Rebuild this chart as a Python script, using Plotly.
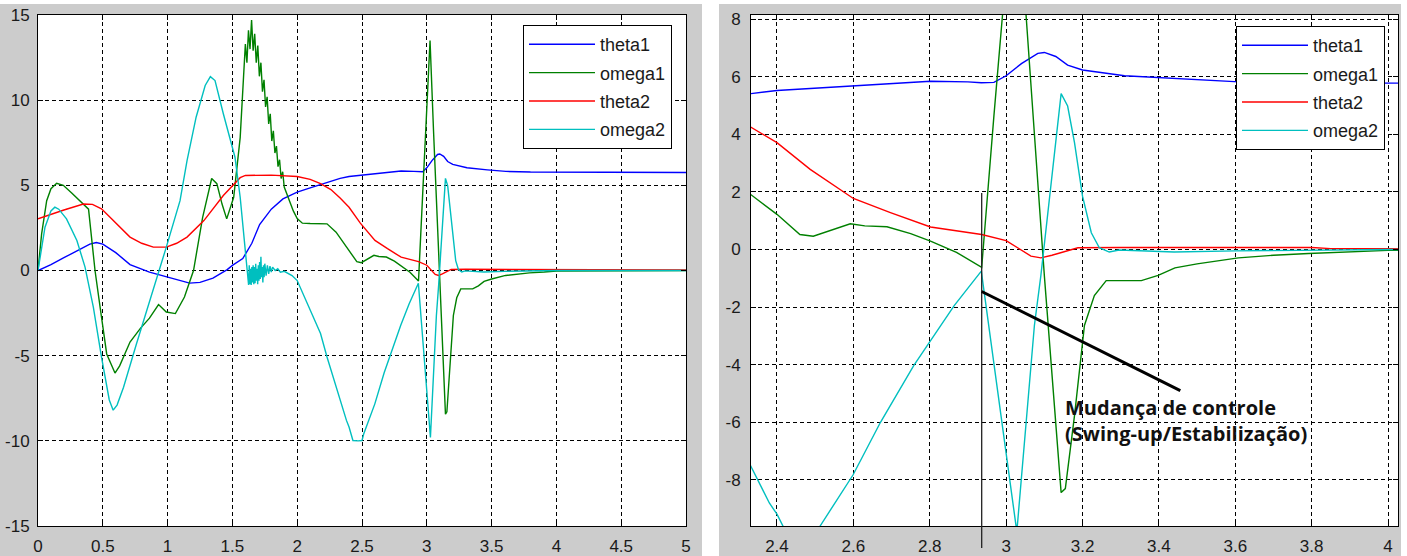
import plotly.graph_objects as go

# ---------------- data ----------------
t_theta1 = [0, 0.1, 0.2, 0.3, 0.4, 0.45, 0.5, 0.6, 0.71, 0.86, 1.0, 1.1, 1.17, 1.25,
            1.35, 1.46, 1.5, 1.58, 1.65, 1.71, 1.8, 1.89, 2.0, 2.1, 2.18, 2.26, 2.331,
            2.4, 2.5, 2.6, 2.7, 2.802, 2.9, 2.935, 2.968, 3.0, 3.04, 3.083, 3.1, 3.13,
            3.161, 3.2, 3.31, 3.467, 3.61, 3.8, 4.03, 4.5, 5.0]
theta1 = [0, 0.35, 0.75, 1.15, 1.55, 1.64, 1.55, 1.05, 0.35, -0.1, -0.4, -0.6, -0.74, -0.7,
          -0.45, 0.05, 0.3, 0.7, 1.6, 2.7, 3.6, 4.2, 4.6, 4.85, 5.05, 5.25, 5.41,
          5.52, 5.6, 5.66, 5.75, 5.84, 5.82, 5.79, 5.8, 6.03, 6.45, 6.81, 6.84, 6.7,
          6.4, 6.23, 6.03, 5.91, 5.82, 5.78, 5.77, 5.76, 5.75]

t_omega1 = [0, 0.028, 0.067, 0.1, 0.144, 0.195, 0.26, 0.32, 0.36, 0.39, 0.415, 0.44, 0.49,
            0.53, 0.594, 0.63, 0.71, 0.79, 0.86, 0.93, 0.99, 1.06, 1.13, 1.2, 1.27, 1.34,
            1.38, 1.42, 1.456, 1.51, 1.56, 1.6,
            1.612, 1.624, 1.636, 1.648, 1.660, 1.672, 1.684, 1.696, 1.708, 1.720,
            1.732, 1.744, 1.756, 1.768, 1.780, 1.792, 1.804, 1.816, 1.828, 1.840,
            1.852, 1.864, 1.876, 1.888, 1.900, 1.920, 1.94, 1.97, 2.0,
            2.04, 2.1, 2.23, 2.3, 2.331, 2.4, 2.46, 2.495, 2.55, 2.592, 2.63, 2.688, 2.75,
            2.802, 2.87, 2.936, 2.968, 2.99, 3.025, 3.052, 3.074, 3.091, 3.1, 3.144,
            3.155, 3.179, 3.205, 3.231, 3.262, 3.354, 3.398, 3.442, 3.5, 3.608, 3.7,
            3.792, 3.906, 4.0, 5.0]
omega1 = [0, 2.15, 4.1, 4.8, 5.12, 5.0, 4.55, 4.1, 3.85, 3.6, 1.8, 0, -2.74,
          -4.9, -6.02, -5.6, -4.2, -3.4, -2.8, -2.0, -2.44, -2.53, -1.56, 0, 3.1, 5.4,
          5.1, 3.9, 3.03, 4.3, 7.8, 13.3,
          12.2, 14.1, 13.0, 14.7, 12.9, 13.9, 12.2, 13.2, 11.4, 12.2,
          10.5, 11.2, 9.6, 10.2, 8.6, 9.2, 7.6, 8.2, 6.9, 7.3,
          6.1, 6.5, 5.4, 5.8, 4.9, 4.5, 4.1, 3.5, 3.05,
          2.78, 2.76, 2.74, 2.25, 1.91, 1.22, 0.52, 0.46, 0.7, 0.89, 0.82, 0.79, 0.55,
          0.29, -0.1, -0.62, 4.64, 8.2, 13.5, 8.17, 4.06, 0.59, -0.9, -8.44,
          -8.3, -5.77, -2.64, -1.6, -1.08, -1.08, -0.9, -0.64, -0.5, -0.29, -0.2,
          -0.14, -0.09, -0.03, 0]

t_theta2 = [0, 0.1, 0.2, 0.35, 0.42, 0.49, 0.6, 0.71, 0.8, 0.89, 0.99, 1.07, 1.15, 1.28,
            1.43, 1.5, 1.56, 1.6, 1.8, 2.0, 2.1, 2.18, 2.26, 2.331, 2.4, 2.487, 2.6,
            2.697, 2.802, 2.936, 3.0, 3.065, 3.091, 3.12, 3.188, 3.3, 3.8, 3.85, 5.0]
theta2 = [3.04, 3.3, 3.55, 3.9, 3.88, 3.62, 2.8, 1.96, 1.6, 1.37, 1.37, 1.6, 1.96, 2.93,
          4.4, 5.0, 5.45, 5.58, 5.6, 5.52, 5.35, 5.1, 4.75, 4.25, 3.71, 2.78, 1.77,
          1.28, 0.78, 0.52, 0.31, -0.23, -0.29, -0.2, 0.06, 0.07, 0.07, 0.03, 0.03]

t_omega2 = [0, 0.054, 0.1, 0.13, 0.16, 0.22, 0.3, 0.363, 0.427, 0.49, 0.55, 0.58, 0.61,
            0.66, 0.76, 0.864, 0.99, 1.096, 1.15, 1.22, 1.29, 1.33, 1.366, 1.43, 1.48,
            1.52, 1.56, 1.6, 1.62, 1.625, 1.63, 1.635, 1.64, 1.645, 1.65, 1.655, 1.66,
            1.665, 1.67, 1.675, 1.68, 1.685, 1.69, 1.695, 1.70, 1.705, 1.71, 1.715,
            1.72, 1.725, 1.73, 1.735, 1.74, 1.745, 1.75, 1.76, 1.77, 1.78, 1.79, 1.80,
            1.81, 1.83, 1.85, 1.87, 1.90, 1.93, 1.96, 2.0, 2.1, 2.18, 2.23, 2.3, 2.331,
            2.38, 2.4, 2.43, 2.47, 2.5, 2.513, 2.599, 2.671, 2.758, 2.799, 2.864, 2.935,
            3.028, 3.074, 3.091, 3.144, 3.161, 3.179, 3.2, 3.223, 3.244, 3.27, 3.296,
            3.44, 3.6, 4.0, 5.0]
omega2 = [0, 2.54, 3.5, 3.72, 3.6, 3.03, 1.76, 0.2, -2.15, -5.08, -7.6, -8.2, -7.9,
          -6.85, -4.3, -1.76, 1.37, 4.1, 6.45, 9.0, 10.86, 11.38, 11.15, 9.2, 7.82,
          6.65, 4.3, 1.17, -0.2, -0.85, 0.3, -0.8, 0.1, -0.85, 0.2, -0.7, 0.3,
          -0.8, 0.2, -0.75, 0.4, -0.6, 0.1, -0.8, 0.3, -0.6, 0.5, -0.5,
          0.8, -0.4, 0.2, -0.7, 0.3, -0.4, 0.4, -0.3, 0.3, -0.2, 0.25, -0.1,
          0.2, 0.0, 0.1, -0.1, -0.05, -0.2, -0.3, -0.59, -2.35, -3.7, -5.08, -6.85, -7.51,
          -8.8, -9.19, -9.98, -10.0, -9.98, -9.6, -7.83, -6.0, -4.03, -3.22, -1.95, -0.75,
          -9.8, -2.64, -0.9, 5.41, 4.98, 3.71, 1.85, 0.58, 0.06, -0.09, -0.02,
          -0.09, -0.05, 0.0, 0.0]

series_names = ["theta1", "omega1", "theta2", "omega2"]
series_colors = ["#0000ff", "#008000", "#ff0000", "#00bfbf"]

left_xticks = [0, 0.5, 1, 1.5, 2, 2.5, 3, 3.5, 4, 4.5, 5]
left_xtext = ["0", "0.5", "1", "1.5", "2", "2.5", "3", "3.5", "4", "4.5", "5"]
left_yticks = [-15, -10, -5, 0, 5, 10, 15]
left_ytext = ["-15", "-10", "-5", "0", "5", "10", "15"]
right_xticks = [2.4, 2.6, 2.8, 3.0, 3.2, 3.4, 3.6, 3.8, 4.0]
right_xtext = ["2.4", "2.6", "2.8", "3", "3.2", "3.4", "3.6", "3.8", "4"]
right_yticks = [-8, -6, -4, -2, 0, 2, 4, 6, 8]
right_ytext = ["-8", "-6", "-4", "-2", "0", "2", "4", "6", "8"]

# annotation (switch of controller)
switch_t = 2.936
arrow_start = (2.936, -1.46)
arrow_end = (3.456, -4.9)
note_pos = (3.150, -5.95)
note_text = "Mudança de controle<br>(Swing-up/Estabilização)"

# ---------------- figure ----------------
W, H = 1407, 556
fig = go.Figure()

data = [(t_theta1, theta1), (t_omega1, omega1), (t_theta2, theta2), (t_omega2, omega2)]
for (tt, vv), name, col in zip(data, series_names, series_colors):
    fig.add_trace(go.Scatter(x=tt, y=vv, mode="lines", name=name,
                             line=dict(color=col, width=1.4),
                             xaxis="x", yaxis="y", legend="legend",
                             legendgroup="L" + name))
for (tt, vv), name, col in zip(data, series_names, series_colors):
    fig.add_trace(go.Scatter(x=tt, y=vv, mode="lines", name=name,
                             line=dict(color=col, width=1.4),
                             xaxis="x2", yaxis="y2", legend="legend2",
                             legendgroup="R" + name))

def px_x(p):
    return p / W

def px_y(p):
    return 1 - p / H

axis_common = dict(showline=True, linecolor="black", linewidth=1, mirror="allticks",
                   ticks="inside", ticklen=5, tickcolor="black", automargin=False,
                   showgrid=True, gridcolor="black", gridwidth=1, griddash="4px,3px",
                   zeroline=False, tickmode="array",
                   tickfont=dict(family="Liberation Sans, Arial", size=17, color="#1a1a1a"))

legend_common = dict(xanchor="left", yanchor="top",
                     bgcolor="white", bordercolor="black", borderwidth=1,
                     font=dict(family="Liberation Sans, Arial", size=18, color="#1a1a1a"),
                     traceorder="grouped", tracegroupgap=2, itemwidth=66)

fig.update_layout(
    width=W, height=H,
    margin=dict(l=0, r=0, t=0, b=0),
    paper_bgcolor="white", plot_bgcolor="white",
    showlegend=True,
    xaxis=dict(domain=[px_x(38), px_x(686)], range=[0, 5], tickvals=left_xticks,
               ticktext=left_xtext, anchor="y", ticklabelstandoff=5, **axis_common),
    yaxis=dict(domain=[px_y(526), px_y(15)], range=[-15, 15], tickvals=left_yticks,
               ticktext=left_ytext, anchor="x", ticklabelstandoff=4, **axis_common),
    xaxis2=dict(domain=[px_x(751), px_x(1398)], range=[2.332, 4.026], tickvals=right_xticks,
                ticktext=right_xtext, anchor="y2", ticklabelstandoff=5, **axis_common),
    yaxis2=dict(domain=[px_y(526), px_y(15)], range=[-9.6, 8.14], tickvals=right_yticks,
                ticktext=right_ytext, anchor="x2", ticklabelstandoff=6, **axis_common),
    legend=dict(x=px_x(523), y=px_y(25), **legend_common),
    legend2=dict(x=px_x(1236), y=px_y(26), **legend_common),
)

# grey figure backgrounds (MATLAB figure windows) with white axes areas
fig.add_shape(type="rect", xref="paper", yref="paper", x0=0, x1=px_x(702),
              y0=0, y1=px_y(4), fillcolor="#cccccc", line_width=0, layer="below")
fig.add_shape(type="rect", xref="paper", yref="paper", x0=px_x(719), x1=px_x(1401),
              y0=0, y1=px_y(4), fillcolor="#cccccc", line_width=0, layer="below")
fig.add_shape(type="rect", xref="x domain", yref="y domain", x0=0, x1=1, y0=0, y1=1,
              fillcolor="white", line_width=0, layer="below")
fig.add_shape(type="rect", xref="x2 domain", yref="y2 domain", x0=0, x1=1, y0=0, y1=1,
              fillcolor="white", line_width=0, layer="below")

# annotation: vertical marker line and pointer
fig.add_shape(type="line", xref="x2", yref="paper", x0=switch_t, x1=switch_t,
              y0=px_y(193), y1=px_y(548), line=dict(color="#222222", width=1.3))
fig.add_shape(type="line", xref="x2", yref="y2", x0=arrow_start[0], y0=arrow_start[1],
              x1=arrow_end[0], y1=arrow_end[1], line=dict(color="black", width=3))
fig.add_annotation(xref="x2", yref="y2", x=note_pos[0], y=note_pos[1],
                   xanchor="left", yanchor="middle",
                   text=note_text, showarrow=False, align="left",
                   font=dict(family="Open Sans", size=20, color="#111111",
                             weight="bold"))

fig.write_html("out.html", config={"displayModeBar": False},
               post_script="document.body.style.margin='0';"
                           "document.body.style.overflow='hidden';")
